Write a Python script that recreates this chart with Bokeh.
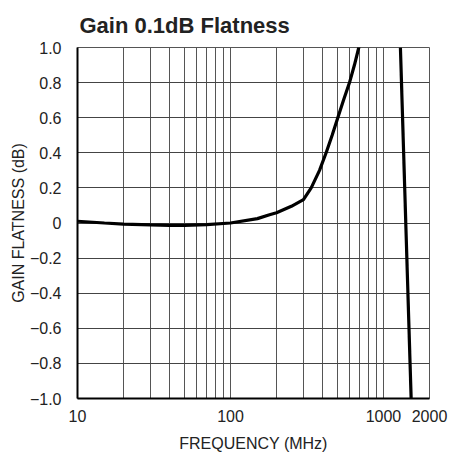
from bokeh.plotting import figure
from bokeh.models import FixedTicker, Range1d
from bokeh.embed import file_html
from bokeh.resources import INLINE

# Curve 1: gain flatness rising with frequency
freq_a = [10, 15, 20, 30, 40, 50, 70, 100, 150, 180, 200, 250, 300, 337, 382, 422, 462, 503, 548, 600, 646, 690, 720]
gain_a = [0.01, 0.0, -0.006, -0.011, -0.013, -0.013, -0.009, 0.0, 0.025, 0.047, 0.058, 0.095, 0.133, 0.2, 0.3, 0.4, 0.5, 0.6, 0.7, 0.8, 0.9, 1.0, 1.07]

# Curve 2: steep fall near 1.3-1.5 GHz
freq_b = [1291, 1517]
gain_b = [1.0, -1.0]

x_major = [10, 100, 1000, 2000]
x_minor = [20, 30, 40, 50, 60, 70, 80, 90, 200, 300, 400, 500, 600, 700, 800, 900]
y_ticks = [-1.0, -0.8, -0.6, -0.4, -0.2, 0.0, 0.2, 0.4, 0.6, 0.8, 1.0]
y_labels = ["\u22121.0", "\u22120.8", "\u22120.6", "\u22120.4", "\u22120.2", "0", "0.2", "0.4", "0.6", "0.8", "1.0"]
title_text = "Gain 0.1dB Flatness"

FONT = "'Liberation Sans', Arial, sans-serif"

p = figure(frame_width=352, frame_height=351, x_axis_type="log",
           x_range=Range1d(10, 2000), y_range=Range1d(-1.0, 1.0),
           output_backend="svg", toolbar_location=None,
           min_border_left=77, min_border_right=20, min_border_top=47, min_border_bottom=52,
           title=title_text)

p.title.text_font = FONT
p.title.text_font_style = "bold"
p.title.text_font_size = "22px"
p.title.text_color = "#222222"
p.title.align = "left"
p.title.offset = 2
p.title.standoff = 19

p.line(freq_a, gain_a, line_color="black", line_width=3.2)
p.line(freq_b, gain_b, line_color="black", line_width=3.2)

p.xaxis.ticker = FixedTicker(ticks=x_major, minor_ticks=x_minor)
p.xaxis.major_label_overrides = {v: str(v) for v in x_major}
p.yaxis.ticker = FixedTicker(ticks=y_ticks)
p.yaxis.major_label_overrides = {v: s for v, s in zip(y_ticks, y_labels)}

for ax in (p.xaxis, p.yaxis):
    ax.axis_line_color = "black"
    ax.axis_line_width = 2
    ax.major_tick_line_color = None
    ax.minor_tick_line_color = None
    ax.major_label_text_font = FONT
    ax.major_label_text_font_size = "16px"
    ax.major_label_text_color = "#222222"
    ax.axis_label_text_font = FONT
    ax.axis_label_text_font_size = "16px"
    ax.axis_label_text_font_style = "normal"
    ax.axis_label_text_color = "#222222"

p.xaxis.axis_label = "FREQUENCY (MHz)"
p.yaxis.axis_label = "GAIN FLATNESS (dB)"
p.xaxis.major_label_standoff = 5
p.yaxis.major_label_standoff = 10
p.xaxis.axis_label_standoff = 10
p.yaxis.axis_label_standoff = 0

p.xgrid.ticker = FixedTicker(ticks=x_major, minor_ticks=x_minor)
p.xgrid.grid_line_color = "#555555"
p.xgrid.minor_grid_line_color = "#555555"
p.xgrid.grid_line_width = 1
p.ygrid.ticker = FixedTicker(ticks=y_ticks)
p.ygrid.grid_line_color = "#444444"
p.ygrid.grid_line_width = 1

p.outline_line_color = "#555555"
p.outline_line_width = 1
p.background_fill_color = "white"
p.border_fill_color = "white"

open("out.html", "w").write(file_html(p, INLINE))
